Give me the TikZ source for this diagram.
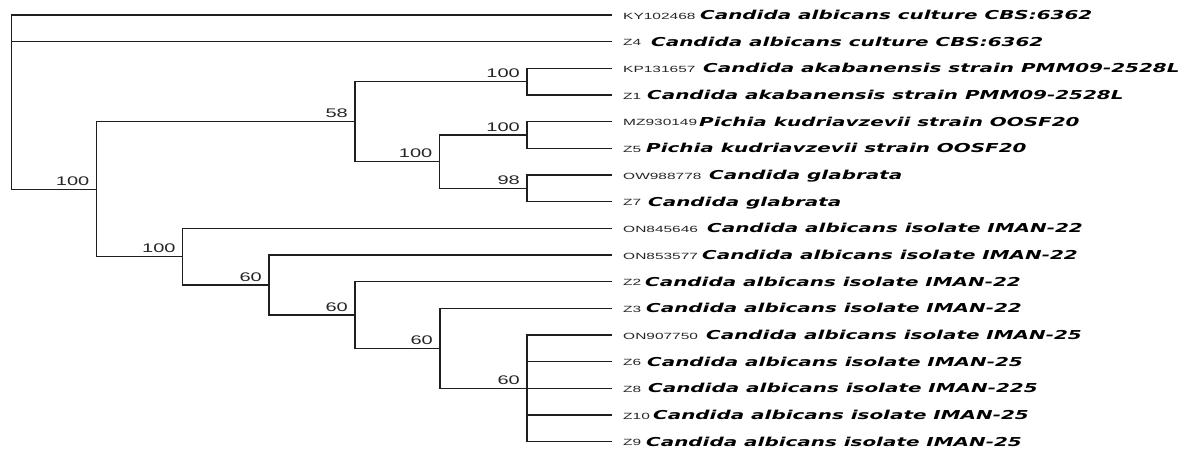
\documentclass[tikz,border=0pt]{standalone}
\usepackage{fontspec}
\newfontfamily\spfont[FakeStretch=1.62]{DejaVu Sans}
\newfontfamily\accfont[FakeStretch=1.72]{Liberation Sans}
\newfontfamily\bsfont[FakeStretch=1.6]{Liberation Sans}
\tikzset{
  branch/.style={line width=1.35pt, draw=black!88},
  bslabel/.style={font=\bsfont\fontsize{12.5}{14}\selectfont, anchor=base east, inner sep=0pt, text=black!85},
  acclabel/.style={font=\accfont\fontsize{9}{10}\selectfont, anchor=base west, inner sep=0pt, text=black!85},
  splabel/.style={font=\spfont\bfseries\itshape\fontsize{12.3}{14}\selectfont, anchor=base west, inner sep=0pt, text=black},
}
\begin{document}
\begin{tikzpicture}[x=1pt,y=-1pt]
\useasboundingbox (0,0) rectangle (1186,448);
% leaves
\foreach \i/\y/\acc/\sx/\nm in {
 1/15/KY102468/700/{Candida albicans culture CBS:6362},
 2/41.67/Z4/651/{Candida albicans culture CBS:6362},
 3/68.33/KP131657/703/{Candida akabanensis strain PMM09-2528L},
 4/95/Z1/647/{Candida akabanensis strain PMM09-2528L},
 5/121.67/MZ930149/699/{Pichia kudriavzevii strain OOSF20},
 6/148.33/Z5/646/{Pichia kudriavzevii strain OOSF20},
 7/175/OW988778/709/{Candida glabrata},
 8/201.67/Z7/648/{Candida glabrata},
 9/228.33/ON845646/707/{Candida albicans isolate IMAN-22},
 10/255/ON853577/702/{Candida albicans isolate IMAN-22},
 11/281.67/Z2/645/{Candida albicans isolate IMAN-22},
 12/308.33/Z3/646/{Candida albicans isolate IMAN-22},
 13/335/ON907750/706/{Candida albicans isolate IMAN-25},
 14/361.67/Z6/647/{Candida albicans isolate IMAN-25},
 15/388.33/Z8/648/{Candida albicans isolate IMAN-225},
 16/415/Z10/653/{Candida albicans isolate IMAN-25},
 17/441.67/Z9/646/{Candida albicans isolate IMAN-25}}{
  \coordinate (l\i) at (611.5,\y);
  \node[acclabel] (a\i) at (623,\y+4) {\acc};
  \node[splabel] (s\i) at (\sx,\y+4.5) {\nm};
}
% internal nodes
\coordinate (root) at (11.5,100);
\coordinate (A) at (96.5,189.17);
\coordinate (N58) at (355,121.67);
\coordinate (P1) at (527,81.67);
\coordinate (C) at (439.5,161.67);
\coordinate (P2) at (527,135);
\coordinate (P3) at (527,188.33);
\coordinate (B) at (182.7,256.67);
\coordinate (D) at (269,285);
\coordinate (E) at (355,315);
\coordinate (F) at (440,348.33);
\coordinate (G) at (527,388.33);
% branches
\draw[branch] (root) |- (l1);
\draw[branch] (root) |- (l2);
\draw[branch] (root) |- (A);
\draw[branch] (A) |- (N58);
\draw[branch] (A) |- (B);
\draw[branch] (N58) |- (P1);
\draw[branch] (N58) |- (C);
\draw[branch] (P1) |- (l3);
\draw[branch] (P1) |- (l4);
\draw[branch] (C) |- (P2);
\draw[branch] (C) |- (P3);
\draw[branch] (P2) |- (l5);
\draw[branch] (P2) |- (l6);
\draw[branch] (P3) |- (l7);
\draw[branch] (P3) |- (l8);
\draw[branch] (B) |- (l9);
\draw[branch] (B) |- (D);
\draw[branch] (D) |- (l10);
\draw[branch] (D) |- (E);
\draw[branch] (E) |- (l11);
\draw[branch] (E) |- (F);
\draw[branch] (F) |- (l12);
\draw[branch] (F) |- (G);
\foreach \i in {13,...,17} {\draw[branch] (G) |- (l\i);}
% bootstrap labels
\node[bslabel] (bA) at ([xshift=-7pt,yshift=4pt]A) {100};
\node[bslabel] (bN58) at ([xshift=-7pt,yshift=4pt]N58) {58};
\node[bslabel] (bP1) at ([xshift=-7pt,yshift=4pt]P1) {100};
\node[bslabel] (bC) at ([xshift=-7pt,yshift=4pt]C) {100};
\node[bslabel] (bP2) at ([xshift=-7pt,yshift=4pt]P2) {100};
\node[bslabel] (bP3) at ([xshift=-7pt,yshift=4pt]P3) {98};
\node[bslabel] (bB) at ([xshift=-7pt,yshift=4pt]B) {100};
\node[bslabel] (bD) at ([xshift=-7pt,yshift=4pt]D) {60};
\node[bslabel] (bE) at ([xshift=-7pt,yshift=4pt]E) {60};
\node[bslabel] (bF) at ([xshift=-7pt,yshift=4pt]F) {60};
\node[bslabel] (bG) at ([xshift=-7pt,yshift=4pt]G) {60};
\end{tikzpicture}
\end{document}
